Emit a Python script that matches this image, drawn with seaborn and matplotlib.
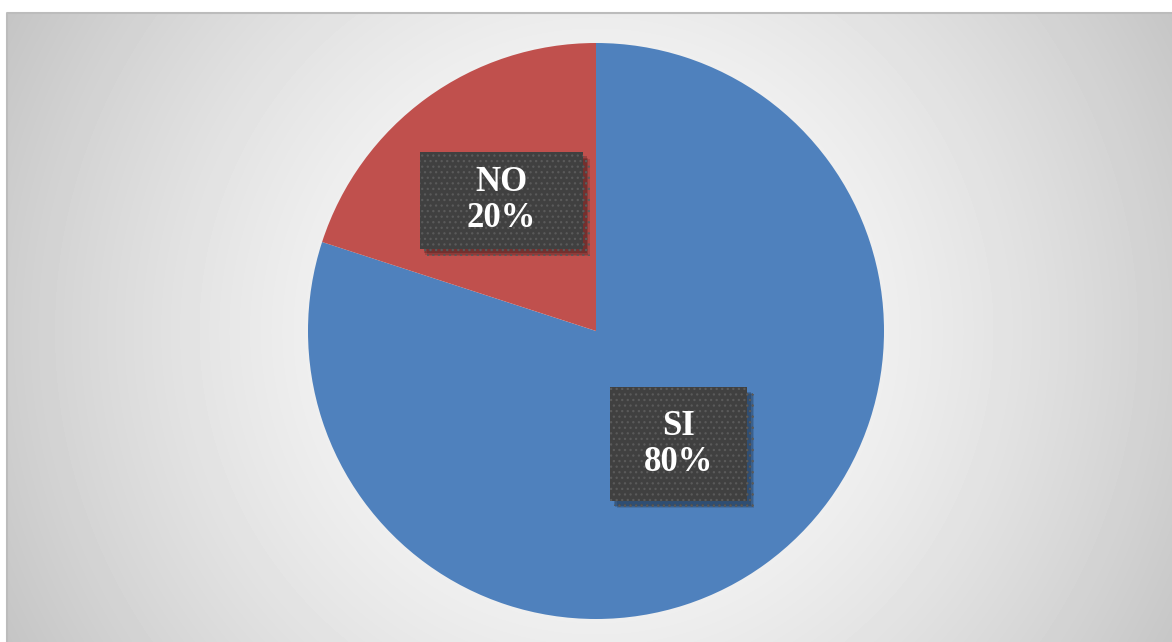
import numpy as np
import matplotlib
matplotlib.use('Agg')
import matplotlib.pyplot as plt
import matplotlib.patheffects as pe
from matplotlib.patches import Rectangle
import seaborn as sns

# data
labels = ['SI', 'NO']
values = [80, 20]
colors = ['#4F81BD', '#C0504D']

sns.set_style('white')
plt.rcParams['font.family'] = ['Liberation Serif', 'DejaVu Serif']
plt.rcParams['hatch.color'] = '#585858'
plt.rcParams['hatch.linewidth'] = 0.9

W, H = 1172, 642
fig = plt.figure(figsize=(W / 100, H / 100), dpi=100)
fig.patch.set_facecolor('white')

# background with radial gradient (chart area)
bg = fig.add_axes([7 / W, 0, (W - 7) / W, (H - 13) / H])
bg.set_axis_off()
yy, xx = np.mgrid[0:H - 13, 0:W - 7]
d = np.hypot(xx - 589, yy - 318)
shade = np.clip(255 - 0.0034 * d ** 1.5, 0, 255) / 255
bg.imshow(shade, cmap='gray', vmin=0, vmax=1, aspect='auto', interpolation='bilinear')
# top and left border lines only
bg.plot([0, 0, 1], [0, 1, 1], transform=bg.transAxes, color='#bcbcbc',
        linewidth=1.5, clip_on=False)

# pie axes: centre (596, 331), radius 288 px
R = 288
ax = fig.add_axes([(596 - R) / W, (H - 331 - R) / H, 2 * R / W, 2 * R / H])
wedges, texts, autotexts = ax.pie(values, colors=colors, startangle=90, counterclock=False,
                                  autopct='%1.0f%%', pctdistance=0.52,
                                  wedgeprops=dict(linewidth=0))
ax.set_xlim(-1, 1)
ax.set_ylim(-1, 1)
ax.set_axis_off()

# label boxes
dists = [0.487, 0.56]
box_sizes = [(0.476, 0.396), (0.566, 0.337)]
for w, t, lab, v, dist, (bw, bh) in zip(wedges, autotexts, labels, values, dists, box_sizes):
    ang = np.deg2rad((w.theta1 + w.theta2) / 2)
    x, y = dist * np.cos(ang), dist * np.sin(ang)
    t.set_position((x, y))
    t.set_text(f'{lab}\n{v}%')
    t.set_color('white')
    t.set_fontfamily('Liberation Serif')
    t.set_fontsize(25)
    t.set_fontweight('bold')
    t.set_linespacing(1.1)
    t.set_zorder(5)
    box = Rectangle((x - bw / 2, y - bh / 2), bw, bh, facecolor='#404040',
                    edgecolor='#5a5a5a', linewidth=0, hatch='...', zorder=4)
    # soft shadow: a few offset layers
    box.set_path_effects([pe.SimplePatchShadow(offset=(5, -5), shadow_rgbFace='black', alpha=0.12),
                          pe.SimplePatchShadow(offset=(4, -4), shadow_rgbFace='black', alpha=0.15),
                          pe.SimplePatchShadow(offset=(3, -3), shadow_rgbFace='black', alpha=0.18),
                          pe.Normal()])
    ax.add_patch(box)

fig.savefig('out.png', dpi=100)
